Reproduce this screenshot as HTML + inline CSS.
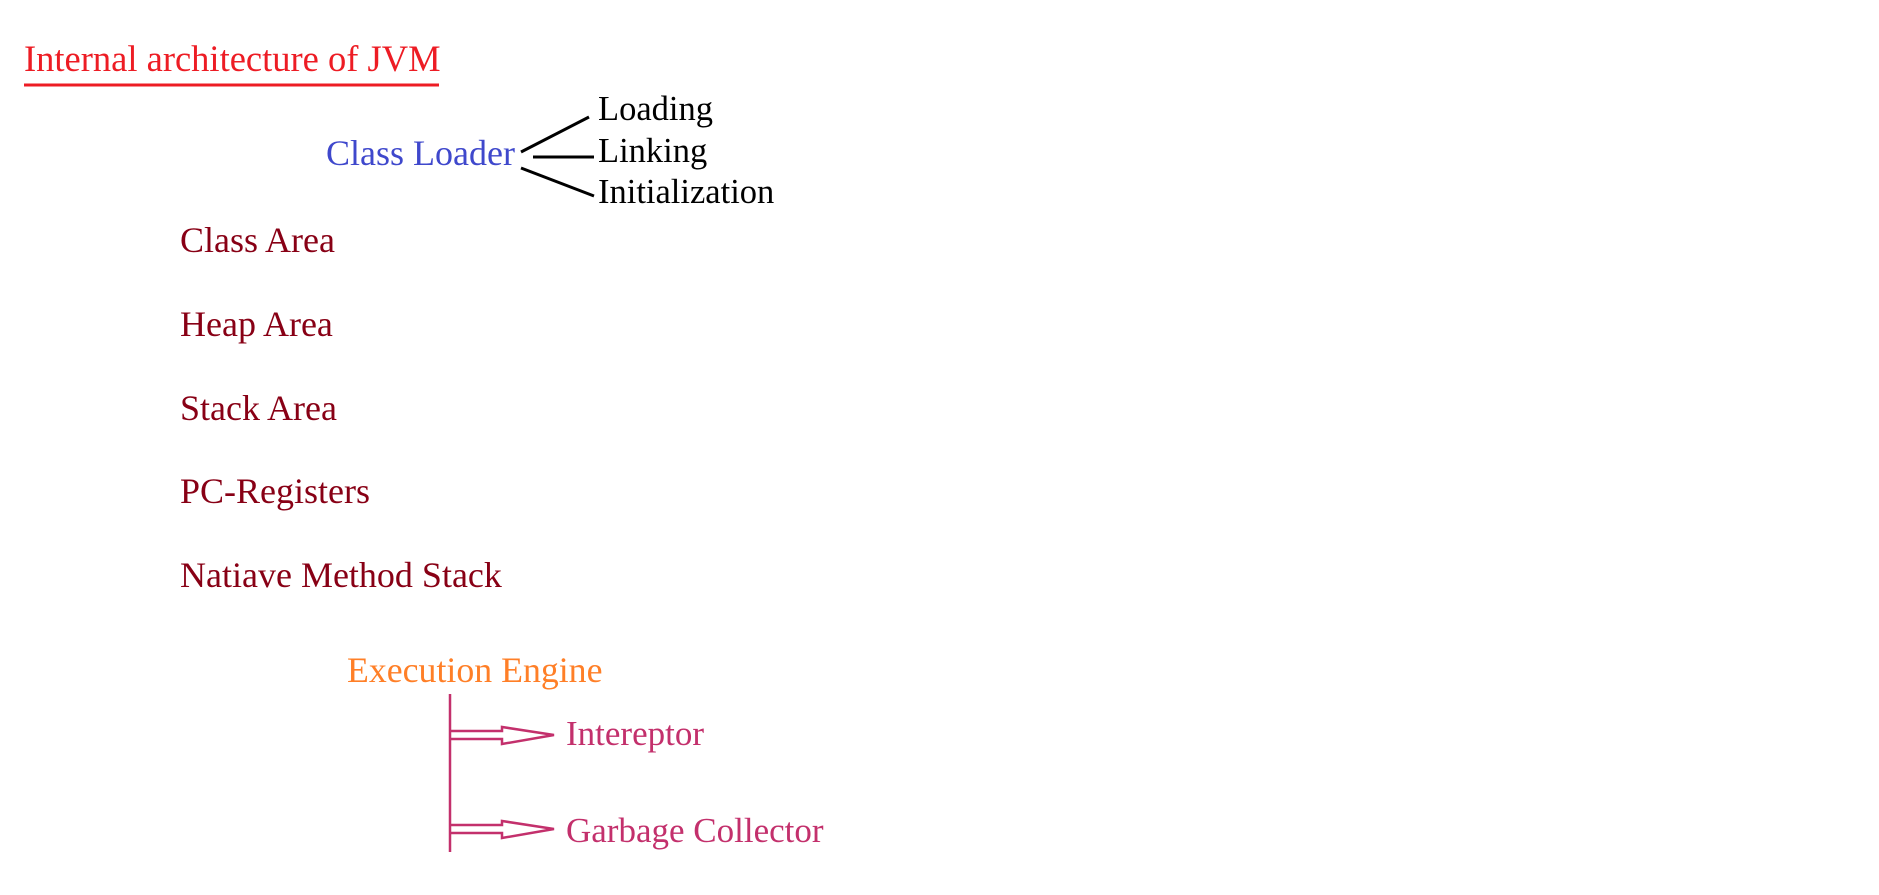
<!DOCTYPE html>
<html><head><meta charset="utf-8"><style>
html,body{margin:0;padding:0;background:#fff;}
svg{display:block;}
text{font-family:"Liberation Serif",serif;}
</style></head><body>
<svg width="1879" height="895" viewBox="0 0 1879 895" xmlns="http://www.w3.org/2000/svg">
<rect width="1879" height="895" fill="#fff"/>
<text x="24" y="71" font-size="36.5" fill="#ed1c24">Internal architecture of JVM</text>
<line x1="24" y1="85" x2="439" y2="85" stroke="#ed1c24" stroke-width="3"/>
<text x="326" y="165" font-size="36" fill="#3f48cc">Class Loader</text>
<g stroke="#000" stroke-width="3">
<line x1="521" y1="152" x2="589" y2="117"/>
<line x1="533" y1="157" x2="594" y2="157"/>
<line x1="521" y1="168" x2="594" y2="196"/>
</g>
<g font-size="34.5" fill="#000">
<text x="598" y="120">Loading</text>
<text x="598" y="162">Linking</text>
<text x="598" y="203">Initialization</text>
</g>
<g font-size="36" fill="#880015">
<text x="180" y="252">Class Area</text>
<text x="180" y="336">Heap Area</text>
<text x="180" y="420">Stack Area</text>
<text x="180" y="503">PC-Registers</text>
<text x="180" y="587">Natiave Method Stack</text>
</g>
<text x="347" y="682" font-size="35.8" fill="#ff7f27">Execution Engine</text>
<g stroke="#c3306c" stroke-width="2.5" fill="none">
<line x1="450" y1="694" x2="450" y2="852"/>
<polyline points="450,731 502,731 502,727 554,735 502,744 502,739 450,739"/>
<polyline points="450,825 502,825 502,821 554,829 502,838 502,833 450,833"/>
</g>
<g font-size="35" fill="#c3306c">
<text x="566" y="745">Intereptor</text>
<text x="566" y="842">Garbage Collector</text>
</g>
</svg>
</body></html>
